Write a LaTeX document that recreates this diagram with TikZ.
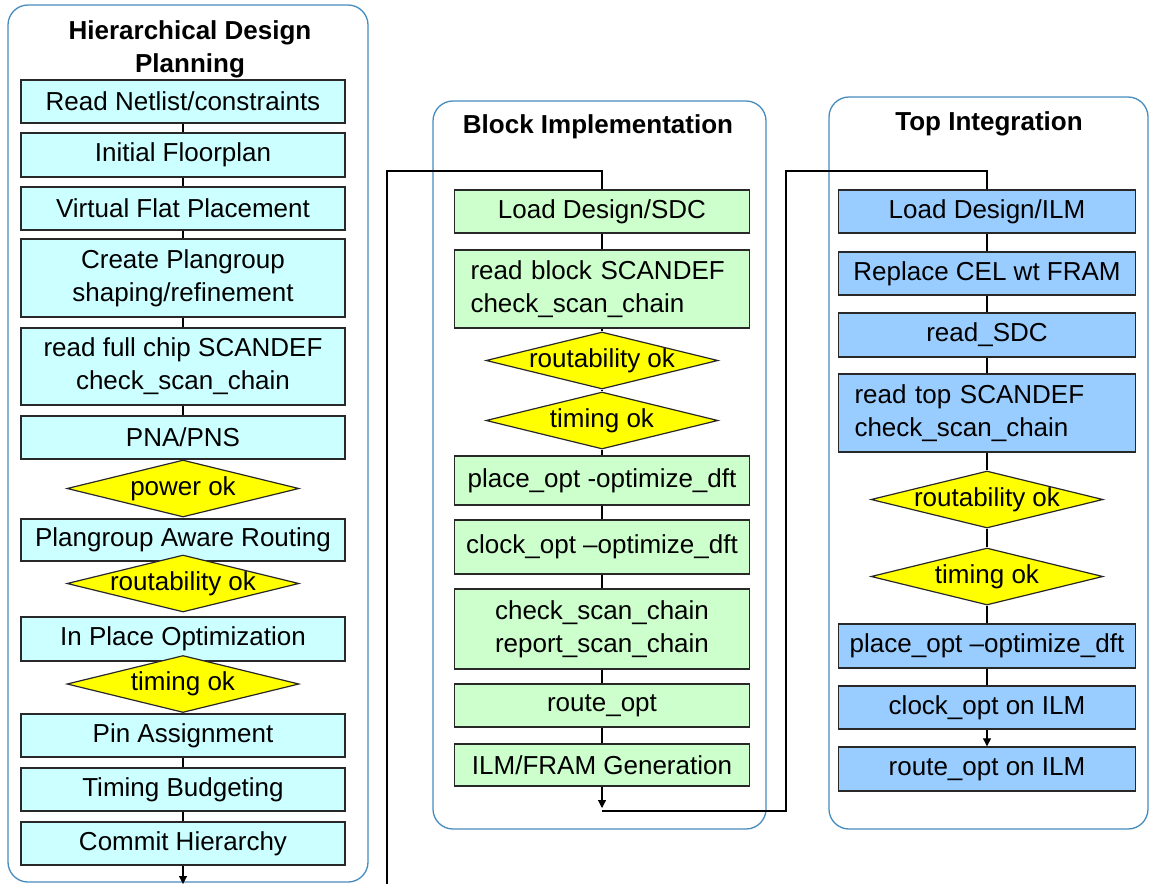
\documentclass[tikz,border=0pt]{standalone}
\usepackage{fontspec}
\setmainfont{Liberation Sans}
\usetikzlibrary{arrows.meta,shapes.geometric}
\definecolor{cyanfill}{RGB}{204,255,255}
\definecolor{greenfill}{RGB}{204,255,204}
\definecolor{bluefill}{RGB}{153,204,255}
\definecolor{checkfill}{RGB}{255,255,0}
\definecolor{framecol}{RGB}{70,140,190}
\definecolor{edgecol}{RGB}{40,40,40}

\begin{document}
\begin{tikzpicture}[x=1pt,y=-1pt,
  every node/.style={font=\fontsize{26}{33}\selectfont, inner sep=0pt},
  stage/.style={draw=framecol, line width=1.3pt, rounded corners=20pt, rectangle},
  stagetitle/.style={font=\fontsize{26}{33}\selectfont\bfseries, align=center},
  stepbox/.style={draw=edgecol, line width=1.4pt, rectangle, align=center},
  hdp/.style={stepbox, fill=cyanfill, minimum width=324pt},
  blk/.style={stepbox, fill=greenfill, minimum width=295pt},
  top/.style={stepbox, fill=bluefill, minimum width=297pt},
  check/.style={diamond, draw=edgecol, line width=1.2pt, fill=checkfill,
                minimum width=232pt, minimum height=57pt},
  conn/.style={draw=black, line width=1.1pt},
  tip/.style={-{Triangle[width=8pt,length=8pt]}}
]
\useasboundingbox (0,0) rectangle (1150,884);

% ---- stage frames ----
\node[stage, minimum width=360pt, minimum height=877pt] (fhdp) at (188,443.5) {};
\node[stage, minimum width=333pt, minimum height=728pt] (fblk) at (599.5,465) {};
\node[stage, minimum width=319pt, minimum height=732pt] (ftop) at (988.5,463) {};

\node[stagetitle] (thdp) at (190,49) {Hierarchical Design\\Planning};
\node[stagetitle] (tblk) at (598,127) {Block Implementation};
\node[stagetitle] (ttop) at (989,124) {Top Integration};

% ---- hierarchical design planning ----
\node[hdp, minimum height=43pt] (hread)   at (183,101.5) {Read Netlist/constraints};
\node[hdp, minimum height=44pt] (hinit)   at (183,155)   {Initial Floorplan};
\node[hdp, minimum height=43pt] (hvirt)   at (183,208.5) {Virtual Flat Placement};
\node[hdp, minimum height=78pt] (hpg)     at (183,278)   {Create Plangroup\\shaping/refinement};
\node[hdp, minimum height=77pt] (hscan)   at (183,366.5) {read full chip SCANDEF\\check\_scan\_chain};
\node[hdp, minimum height=43pt] (hpna)    at (183,437.5) {PNA/PNS};
\node[hdp, minimum height=42pt] (hroute)  at (183,540)   {Plangroup Aware Routing};
\node[hdp, minimum height=44pt] (hipo)    at (183,639)   {In Place Optimization};
\node[hdp, minimum height=43pt] (hpin)    at (183,735.5) {Pin Assignment};
\node[hdp, minimum height=43pt] (hbudget) at (183,789.5) {Timing Budgeting};
\node[hdp, minimum height=43pt] (hcommit) at (183,843.5) {Commit Hierarchy};
\node[check, label={center:power ok}]       (hpow) at (183,488.5) {};
\node[check, label={center:routability ok}] (hrok) at (183,583.5) {};
\node[check, label={center:timing ok}]      (htok) at (183,684)   {};

% ---- block implementation ----
\node[blk, minimum height=43pt] (bload)  at (602,211.5) {Load Design/SDC};
\node[blk, minimum height=78pt, text width=263pt, align=left, inner xsep=16pt]
      (bscan)  at (602,289) {read block SCANDEF\\check\_scan\_chain};
\node[check, label={center:routability ok}] (brok) at (602,360.5) {};
\node[check, label={center:timing ok}]      (btok) at (602,420.5) {};
\node[blk, minimum height=49pt] (bplace) at (602,480.5) {place\_opt -optimize\_dft};
\node[blk, minimum height=54pt] (bclock) at (602,547)   {clock\_opt –optimize\_dft};
\node[blk, minimum height=80pt] (bcheck) at (602,629)   {check\_scan\_chain\\report\_scan\_chain};
\node[blk, minimum height=43pt] (broute) at (602,705.5) {route\_opt};
\node[blk, minimum height=42pt] (bilm)   at (602,765)   {ILM/FRAM Generation};

% ---- top integration ----
\node[top, minimum height=43pt] (tload)  at (987,211.5) {Load Design/ILM};
\node[top, minimum height=43pt] (trepl)  at (987,273.5) {Replace CEL wt FRAM};
\node[top, minimum height=44pt] (tsdc)   at (987,335)   {read\_SDC};
\node[top, minimum height=78pt, text width=265pt, align=left, inner xsep=16pt]
      (tscan)  at (987,413) {read top SCANDEF\\check\_scan\_chain};
\node[check, label={center:routability ok}] (trok) at (987,499.5) {};
\node[check, label={center:timing ok}]      (ttok) at (987,576.5) {};
\node[top, minimum height=44pt] (tplace) at (987,646)   {place\_opt –optimize\_dft};
\node[top, minimum height=43pt] (tclock) at (987,707.5) {clock\_opt on ILM};
\node[top, minimum height=44pt] (troute) at (987,769)   {route\_opt on ILM};

% ---- connectors inside each stage ----
\foreach \a/\b in {hread/hinit, hinit/hvirt, hvirt/hpg, hpg/hscan, hscan/hpna,
                   hpin/hbudget, hbudget/hcommit,
                   bload/bscan, bscan/brok, brok/btok, btok/bplace, bplace/bclock,
                   bclock/bcheck, bcheck/broute, broute/bilm,
                   tload/trepl, trepl/tsdc, tsdc/tscan, tscan/trok, trok/ttok,
                   ttok/tplace, tplace/tclock}
  \draw[conn] (\a.south) -- (\b.north);
\draw[conn, tip] (tclock.south) -- (troute.north);

% ---- hand-over between stages ----
\coordinate (hexit) at (183,884);
\coordinate (hfoot) at (387,884);
\coordinate (bdrop) at (602,171);
\coordinate (bexit) at (602,808);
\coordinate (bturn) at (602,811);
\coordinate (brise) at (786,171);

\draw[conn, tip] (hcommit.south) -- (hexit);
\draw[conn] (hfoot) |- (bdrop) -- (bload.north);
\draw[conn, tip] (bilm.south) -- (bexit);
\draw[conn] (bturn) -| (brise) -| (tload.north);
\end{tikzpicture}
\end{document}
